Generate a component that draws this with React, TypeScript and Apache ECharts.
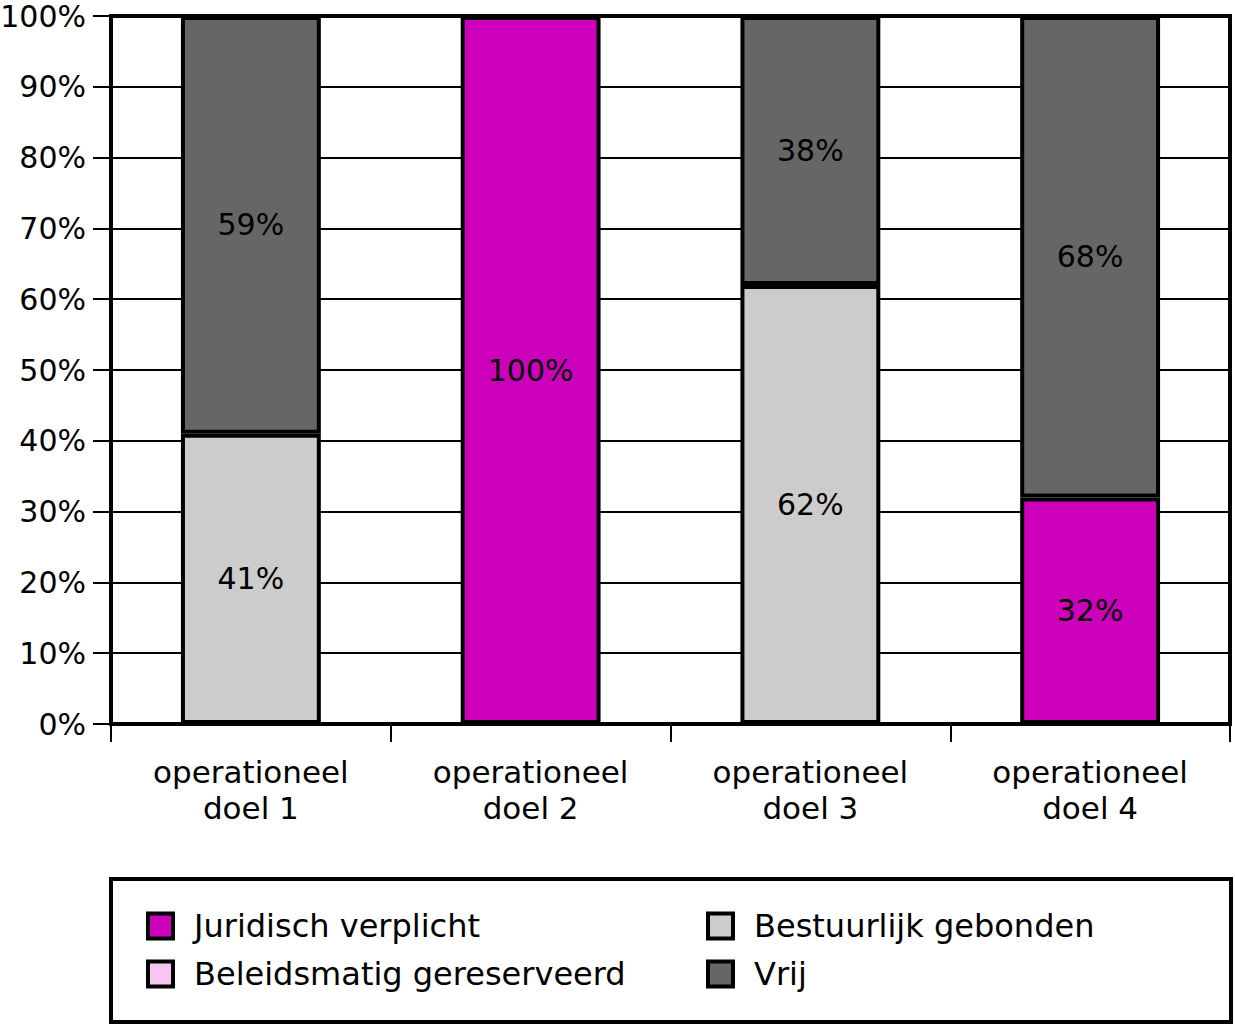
import React, { useEffect, useRef } from "react";
import * as echarts from "echarts";

const categories = ["operationeel\ndoel 1", "operationeel\ndoel 2", "operationeel\ndoel 3", "operationeel\ndoel 4"];
const seriesNames = ["Juridisch verplicht", "Beleidsmatig gereserveerd", "Bestuurlijk gebonden", "Vrij"];
const juridisch = [0, 100, 0, 32];
const beleidsmatig = [0, 0, 0, 0];
const bestuurlijk = [41, 0, 62, 0];
const vrij = [59, 0, 38, 68];
const colors = ["#cc00bb", "#f7c6f0", "#cccccc", "#666666"];

const FONT = "DejaVu Sans";

export default function App() {
  const ref = useRef<HTMLDivElement>(null);
  useEffect(() => {
    if (!ref.current) return;
    const chart = echarts.init(ref.current, undefined, { renderer: "svg" });
    const values = [juridisch, beleidsmatig, bestuurlijk, vrij];
    const series = seriesNames.map((name, i) => ({
      name,
      type: "bar",
      stack: "total",
      barWidth: "50%",
      data: values[i].map((v) => (v === 0 ? "-" : v)),
      itemStyle: { color: colors[i], borderColor: "#000", borderWidth: 4 },
      label: {
        show: true,
        position: "inside",
        color: "#000",
        fontSize: 30,
        fontFamily: FONT,
        formatter: (p: any) => p.value + "%",
      },
    }));
    const legendCommon = {
      orient: "vertical",
      top: 910,
      padding: 0,
      icon: "rect",
      itemWidth: 25,
      itemHeight: 25,
      itemGap: 16,
      itemStyle: { borderColor: "#000", borderWidth: 4 },
      textStyle: { color: "#000", fontSize: 32, fontFamily: FONT, padding: [0, 0, 0, 16], lineHeight: 30 },
    };
    chart.setOption({
      animation: false,
      backgroundColor: "#fff",
      textStyle: { fontFamily: FONT },
      grid: {
        left: 111,
        right: 5,
        top: 16,
        bottom: 301,
        show: true,
        borderColor: "#000",
        borderWidth: 4,
        backgroundColor: "transparent",
        containLabel: false,
        outerBoundsMode: "none",
      },
      xAxis: {
        type: "category",
        data: categories,
        axisLine: { show: true, lineStyle: { color: "#000", width: 4 } },
        axisTick: { show: true, length: 18, lineStyle: { color: "#000", width: 2 } },
        axisLabel: { color: "#000", fontSize: 31, fontFamily: FONT, lineHeight: 36, margin: 30 },
        splitLine: { show: false },
      },
      yAxis: {
        type: "value",
        min: 0,
        max: 100,
        interval: 10,
        axisLine: { show: true, lineStyle: { color: "#000", width: 4 } },
        axisTick: { show: true, length: 18, lineStyle: { color: "#000", width: 2 } },
        axisLabel: { color: "#000", fontSize: 30, fontFamily: FONT, margin: 25, formatter: "{value}%" },
        splitLine: { show: true, lineStyle: { color: "#000", width: 2 } },
      },
      legend: [
        { ...legendCommon, data: [seriesNames[0], seriesNames[1]], left: 146 },
        { ...legendCommon, data: [seriesNames[2], seriesNames[3]], left: 706 },
      ],
      graphic: [
        {
          type: "rect",
          shape: { x: 111, y: 879, width: 1120, height: 143 },
          style: { fill: "none", stroke: "#000", lineWidth: 4 },
          silent: true,
        },
      ],
      series,
    });
    return () => chart.dispose();
  }, []);
  return <div ref={ref} style={{ width: 1235, height: 1025, position: "absolute", left: 0, top: 0 }} />;
}
